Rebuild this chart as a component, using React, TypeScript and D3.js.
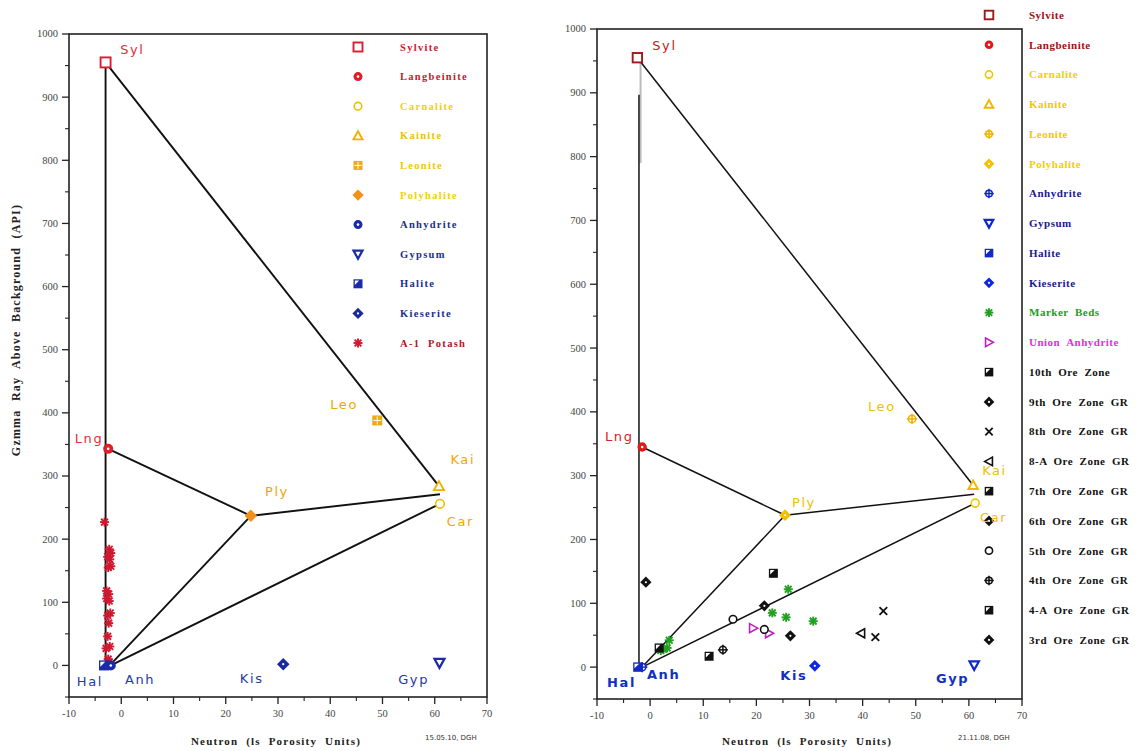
import React from 'react';
import * as d3 from 'd3';

// ---------- shared axis data ----------
const xDomain: [number, number] = [-10, 70];
const yDomain: [number, number] = [-50, 1000];
const xMajorTicks = d3.range(-10, 71, 10);
const xMinorTicks = d3.range(-5, 70, 10);
const yMajorTicks = d3.range(0, 1001, 100);
const yMinorTicks = d3.range(-50, 1000, 100);

// ---------- left chart data ----------
const leftLegendNames = ['Sylvite', 'Langbeinite', 'Carnalite', 'Kainite', 'Leonite', 'Polyhalite', 'Anhydrite', 'Gypsum', 'Halite', 'Kieserite', 'A-1  Potash'];
const leftLabels = ['Syl', 'Lng', 'Car', 'Kai', 'Leo', 'Ply', 'Anh', 'Gyp', 'Hal', 'Kis'];
const leftMineralX = [-3, -2.5, 61, 60.8, 49, 24.8, -2, 60.9, -3.3, 31];
const leftMineralY = [955, 343, 256, 284, 388, 237, 0, 4, 0, 2];
const leftLabelX = [-0.2, -8.9, 62.3, 63, 40, 27.5, 0.7, 53, -8.5, 22.7];
const leftLabelY = [975, 360, 229, 327, 414, 276, -22, -22, -25, -21];
const leftPotashX = [-3.2, -2.3, -2.0, -2.6, -2.2, -2.5, -2.0, -2.8, -2.4, -2.8, -2.3, -2.1, -2.6, -2.4, -2.6, -2.2, -2.9, -2.5, -2.3];
const leftPotashY = [227, 184, 178, 172, 168, 155, 157, 118, 113, 106, 102, 83, 79, 67, 46, 30, 27, 10, 5];
const leftTieFrom: [number, number][] = [[-3, 955], [-3, 955], [-2.5, 343], [24.8, 237], [24.8, 237], [-2, 0]];
const leftTieTo: [number, number][] = [[-3, 0], [60.8, 284], [24.8, 237], [-2.2, 0], [61, 271], [61, 256]];

// ---------- right chart data ----------
const rightLegendNames = ['Sylvite', 'Langbeinite', 'Carnalite', 'Kainite', 'Leonite', 'Polyhalite', 'Anhydrite', 'Gypsum', 'Halite', 'Kieserite', 'Marker  Beds', 'Union  Anhydrite', '10th  Ore  Zone', '9th  Ore  Zone  GR', '8th  Ore  Zone  GR', '8-A  Ore  Zone  GR', '7th  Ore  Zone  GR', '6th  Ore  Zone  GR', '5th  Ore  Zone  GR', '4th  Ore  Zone  GR', '4-A  Ore  Zone  GR', '3rd  Ore  Zone  GR'];
const rightLabels = ['Syl', 'Lng', 'Car', 'Kai', 'Leo', 'Ply', 'Anh', 'Gyp', 'Hal', 'Kis'];
const rightMineralX = [-2.4, -1.5, 61.2, 60.8, 49.3, 25.4, -1.5, 61, -2.3, 31];
const rightMineralY = [955, 345, 257, 285, 389, 238, 0, 3, 0, 2];
const rightLabelX = [0.4, -8.5, 62.1, 62.5, 41, 26.7, -0.6, 53.8, -8.1, 24.5];
const rightLabelY = [975, 362, 235, 309, 408, 259, -11, -17, -23.5, -12.5];
const rightTieFrom: [number, number][] = [[-2.1, 897], [-2.4, 955], [-1.5, 345], [25.4, 238], [25.4, 238], [-1.5, 0]];
const rightTieTo: [number, number][] = [[-2.1, 0], [60.8, 285], [25.4, 238], [-1.5, 0], [61, 271], [61.2, 257]];
const rightGreyLine: [number, number][] = [[-1.8, 955], [-1.8, 790]];
const markerBedsX = [26, 23, 25.6, 30.7, 3.6, 3.2, 2.5, 2.0];
const markerBedsY = [122, 85, 78, 72, 42, 30, 28, 26];
const unionAnhydriteX = [19.4, 22.4];
const unionAnhydriteY = [61, 53];
const ore10X = [23.2];
const ore10Y = [147];
const ore9X = [-0.8];
const ore9Y = [133];
const ore8X = [43.9, 42.4];
const ore8Y = [88, 47];
const ore8AX = [39.7];
const ore8AY = [53];
const ore7X = [1.7];
const ore7Y = [30];
const ore6X = [21.5];
const ore6Y = [96];
const ore5X = [15.6, 21.5];
const ore5Y = [75, 59];
const ore4X = [13.7];
const ore4Y = [27];
const ore4AX = [11.1];
const ore4AY = [17];
const ore3X = [26.4];
const ore3Y = [49];

type Sym = 'sqOpen' | 'circDot' | 'circOpen' | 'tri' | 'sqGrid' | 'diamond' | 'diamondDot' | 'circCross' | 'triDown' | 'triRight' | 'triLeft' | 'sqHalf' | 'aster' | 'cross';

function Marker({ sym, cx, cy, color, s = 4.5 }: { sym: Sym; cx: number; cy: number; color: string; s?: number }) {
  switch (sym) {
    case 'sqOpen':
      return <rect x={cx - s} y={cy - s} width={2 * s} height={2 * s} fill="#fff" stroke={color} strokeWidth={1.9} />;
    case 'circDot':
      return (<g><circle cx={cx} cy={cy} r={s} fill={color} /><circle cx={cx} cy={cy} r={1.3} fill="#fff" /></g>);
    case 'circOpen':
      return <circle cx={cx} cy={cy} r={s - 0.7} fill="#fff" stroke={color} strokeWidth={1.6} />;
    case 'tri':
      return <path d={`M${cx},${cy - s} L${cx + s},${cy + s * 0.8} L${cx - s},${cy + s * 0.8}Z`} fill="#fff" stroke={color} strokeWidth={1.9} />;
    case 'triDown':
      return <path d={`M${cx - s},${cy - s * 0.8} L${cx + s},${cy - s * 0.8} L${cx},${cy + s}Z`} fill="#fff" stroke={color} strokeWidth={2.2} />;
    case 'triRight':
      return <path d={`M${cx - s * 0.8},${cy - s} L${cx + s},${cy} L${cx - s * 0.8},${cy + s}Z`} fill="#fff" stroke={color} strokeWidth={1.6} />;
    case 'triLeft':
      return <path d={`M${cx + s * 0.8},${cy - s} L${cx - s},${cy} L${cx + s * 0.8},${cy + s}Z`} fill="#fff" stroke={color} strokeWidth={1.6} />;
    case 'sqGrid':
      return (<g><rect x={cx - s} y={cy - s} width={2 * s} height={2 * s} fill={color} />
        <line x1={cx - s + 1} x2={cx + s - 1} y1={cy} y2={cy} stroke="#fff" strokeWidth={1} />
        <line x1={cx} x2={cx} y1={cy - s + 1} y2={cy + s - 1} stroke="#fff" strokeWidth={1} /></g>);
    case 'diamond':
      return <path d={`M${cx},${cy - s * 1.25} L${cx + s * 1.25},${cy} L${cx},${cy + s * 1.25} L${cx - s * 1.25},${cy}Z`} fill={color} />;
    case 'diamondDot':
      return (<g><path d={`M${cx},${cy - s * 1.25} L${cx + s * 1.25},${cy} L${cx},${cy + s * 1.25} L${cx - s * 1.25},${cy}Z`} fill={color} />
        <circle cx={cx} cy={cy} r={1.1} fill="#fff" /></g>);
    case 'circCross':
      return (<g><circle cx={cx} cy={cy} r={s - 1} fill="#fff" stroke={color} strokeWidth={1.5} />
        <line x1={cx - s - 0.5} x2={cx + s + 0.5} y1={cy} y2={cy} stroke={color} strokeWidth={1.5} />
        <line x1={cx} x2={cx} y1={cy - s - 0.5} y2={cy + s + 0.5} stroke={color} strokeWidth={1.5} /></g>);
    case 'sqHalf':
      return (<g><rect x={cx - s} y={cy - s} width={2 * s} height={2 * s} fill={color} />
        <path d={`M${cx - s + 1.3},${cy - s + 1.3} L${cx + 1.2},${cy - s + 1.3} L${cx - s + 1.3},${cy + 1.2}Z`} fill="#fff" /></g>);
    case 'aster': {
      const d = s * 0.75;
      return (<g stroke={color} strokeWidth={1.9}>
        <line x1={cx - s} x2={cx + s} y1={cy} y2={cy} />
        <line x1={cx} x2={cx} y1={cy - s} y2={cy + s} />
        <line x1={cx - d} x2={cx + d} y1={cy - d} y2={cy + d} />
        <line x1={cx - d} x2={cx + d} y1={cy + d} y2={cy - d} /></g>);
    }
    case 'cross': {
      const d = s * 0.85;
      return (<g stroke={color} strokeWidth={1.8}>
        <line x1={cx - d} x2={cx + d} y1={cy - d} y2={cy + d} />
        <line x1={cx - d} x2={cx + d} y1={cy + d} y2={cy - d} /></g>);
    }
  }
  return null;
}

const SERIF = '"Liberation Serif", "DejaVu Serif", serif';
const SANS = '"DejaVu Sans", "Liberation Sans", sans-serif';

interface AxisProps {
  x: d3.ScaleLinear<number, number>;
  y: d3.ScaleLinear<number, number>;
}

function AxesFrame({ x, y }: AxisProps) {
  const [x0, x1] = x.range();
  const [yb, yt] = y.range();
  return (
    <g>
      <rect x={x0} y={yt} width={x1 - x0} height={yb - yt} fill="none" stroke="#222" strokeWidth={1.6} />
      {yMajorTicks.map((t) => (
        <g key={'ym' + t}>
          <line x1={x0 - 7} x2={x0} y1={y(t)} y2={y(t)} stroke="#222" strokeWidth={1.3} />
          <text x={x0 - 11} y={y(t)} dy="0.33em" textAnchor="end" fontFamily={SERIF} fontSize={10.5} fill="#444">{t}</text>
        </g>
      ))}
      {yMinorTicks.map((t) => (
        <line key={'yn' + t} x1={x0 - 4} x2={x0} y1={y(t)} y2={y(t)} stroke="#222" strokeWidth={1.1} />
      ))}
      {xMajorTicks.map((t) => (
        <g key={'xm' + t}>
          <line x1={x(t)} x2={x(t)} y1={yb} y2={yb + 7} stroke="#222" strokeWidth={1.3} />
          <text x={x(t)} y={yb + 20} textAnchor="middle" fontFamily={SERIF} fontSize={10.5} fill="#444">{t}</text>
        </g>
      ))}
      {xMinorTicks.map((t) => (
        <line key={'xn' + t} x1={x(t)} x2={x(t)} y1={yb} y2={yb + 4} stroke="#222" strokeWidth={1.1} />
      ))}
    </g>
  );
}

// ---------- styles ----------
const leftSyms: Sym[] = ['sqOpen', 'circDot', 'circOpen', 'tri', 'sqGrid', 'diamond', 'circDot', 'triDown', 'sqHalf', 'diamondDot', 'aster'];
const leftMarkerColors = ['#d81e30', '#e01e28', '#e8c400', '#f0b000', '#f0aa10', '#f29018', '#1a2aa8', '#1a2aa8', '#1a2aa8', '#1a2a9a', '#d01830'];
const leftTextColors = ['#c8202e', '#c8202e', '#f0d400', '#f0c000', '#f0c800', '#f2d200', '#1b2f8c', '#1b2f8c', '#1b2f8c', '#1b2f8c', '#b0142a'];
const leftLabelColors = ['#e0303a', '#e0303a', '#f0a800', '#f0a800', '#f0a800', '#f0a800', '#1f3aa0', '#1f3aa0', '#1f3aa0', '#1f3aa0'];

const rightSyms: Sym[] = ['sqOpen', 'circDot', 'circOpen', 'tri', 'circCross', 'diamondDot', 'circCross', 'triDown', 'sqHalf', 'diamondDot', 'aster', 'triRight', 'sqHalf', 'diamondDot', 'cross', 'triLeft', 'sqHalf', 'diamondDot', 'circOpen', 'circCross', 'sqHalf', 'diamondDot'];
const rightMarkerColors = ['#a01818', '#e01818', '#f0c800', '#f0b800', '#f0b000', '#f5c000', '#1028c8', '#1028c8', '#1028c8', '#1028e0', '#20a020', '#c020c0', '#111', '#111', '#111', '#111', '#111', '#111', '#111', '#111', '#111', '#111'];
const rightTextColors = ['#a01010', '#a01010', '#f2d000', '#f2c800', '#f2c800', '#f2d000', '#1a1a88', '#1a1a88', '#1a1a88', '#1a1a88', '#20a020', '#e030e0', '#111', '#111', '#111', '#111', '#111', '#111', '#111', '#111', '#111', '#111'];
const rightLabelColors = ['#c82020', '#e02020', '#f0c000', '#f0c000', '#f0c000', '#f0c000', '#1030c0', '#1030c0', '#1030c0', '#1030c0'];

function LeftChart() {
  const x = d3.scaleLinear().domain(xDomain).range([69, 487]);
  const y = d3.scaleLinear().domain(yDomain).range([697, 34]);
  const legendY = (i: number) => 47 + i * 29.6;
  return (
    <g>
      <AxesFrame x={x} y={y} />
      {leftTieFrom.map((p, i) => (
        <line key={'t' + i} x1={x(p[0])} y1={y(p[1])} x2={x(leftTieTo[i][0])} y2={y(leftTieTo[i][1])} stroke="#111" strokeWidth={1.9} />
      ))}
      {leftPotashX.map((v, i) => (
        <Marker key={'p' + i} sym="aster" cx={x(v)} cy={y(leftPotashY[i])} color={leftMarkerColors[10]} s={4.5} />
      ))}
      {leftMineralX.map((v, i) => (
        <Marker key={'m' + i} sym={leftSyms[i]} cx={x(v)} cy={y(leftMineralY[i])} color={leftMarkerColors[i]} s={5} />
      ))}
      {leftLabels.map((l, i) => (
        <text key={'l' + i} x={x(leftLabelX[i])} y={y(leftLabelY[i])} dy="0.36em" fontFamily={SANS} fontSize={13} letterSpacing={1.6} fill={leftLabelColors[i]}>{l}</text>
      ))}
      {leftLegendNames.map((n, i) => (
        <g key={'lg' + i}>
          <Marker sym={leftSyms[i]} cx={358} cy={legendY(i)} color={leftMarkerColors[i]} s={4.5} />
          <text x={400} y={legendY(i)} dy="0.35em" fontFamily={SERIF} fontWeight="bold" fontSize={10.5} letterSpacing={1.3} fill={leftTextColors[i]} style={{ whiteSpace: 'pre' }}>{n}</text>
        </g>
      ))}
      <text transform={`translate(20,${330}) rotate(-90)`} textAnchor="middle" fontFamily={SERIF} fontWeight="bold" fontSize={12} letterSpacing={1.2} fill="#222" style={{ whiteSpace: 'pre' }}>{'Gzmma  Ray  Above  Background  (API)'}</text>
      <text x={276} y={745} textAnchor="middle" fontFamily={SERIF} fontWeight="bold" fontSize={11} letterSpacing={1.2} fill="#222" style={{ whiteSpace: 'pre' }}>{'Neutron  (ls  Porosity  Units)'}</text>
      <text x={425} y={740} fontFamily={SANS} fontSize={7} fill="#333">15.05.10, DGH</text>
    </g>
  );
}

function RightChart() {
  const x = d3.scaleLinear().domain(xDomain).range([597, 1022]);
  const y = d3.scaleLinear().domain(yDomain).range([699, 29]);
  const legendY = (i: number) => 15 + i * 29.76;
  const extra: [number[], number[], number][] = [
    [markerBedsX, markerBedsY, 10], [unionAnhydriteX, unionAnhydriteY, 11], [ore10X, ore10Y, 12], [ore9X, ore9Y, 13],
    [ore8X, ore8Y, 14], [ore8AX, ore8AY, 15], [ore7X, ore7Y, 16], [ore6X, ore6Y, 17], [ore5X, ore5Y, 18],
    [ore4X, ore4Y, 19], [ore4AX, ore4AY, 20], [ore3X, ore3Y, 21],
  ];
  return (
    <g>
      <AxesFrame x={x} y={y} />
      <line x1={x(rightGreyLine[0][0])} y1={y(rightGreyLine[0][1])} x2={x(rightGreyLine[1][0])} y2={y(rightGreyLine[1][1])} stroke="#bbb" strokeWidth={2} />
      {rightTieFrom.map((p, i) => (
        <line key={'t' + i} x1={x(p[0])} y1={y(p[1])} x2={x(rightTieTo[i][0])} y2={y(rightTieTo[i][1])} stroke="#111" strokeWidth={1.5} />
      ))}
      {extra.map(([xs, ys, k]) => xs.map((v, j) => (
        <Marker key={'e' + k + '-' + j} sym={rightSyms[k]} cx={x(v)} cy={y(ys[j])} color={rightMarkerColors[k]} s={4.5} />
      )))}
      {rightMineralX.map((v, i) => (
        <Marker key={'m' + i} sym={rightSyms[i]} cx={x(v)} cy={y(rightMineralY[i])} color={rightMarkerColors[i]} s={4.7} />
      ))}
      {rightLegendNames.map((n, i) => (
        <g key={'lg' + i}>
          <Marker sym={rightSyms[i]} cx={989} cy={legendY(i)} color={rightMarkerColors[i]} s={4.3} />
          <text x={1029} y={legendY(i)} dy="0.35em" fontFamily={SERIF} fontWeight="bold" fontSize={11} letterSpacing={0.5} fill={rightTextColors[i]} style={{ whiteSpace: 'pre' }}>{n}</text>
        </g>
      ))}
      {rightLabels.map((l, i) => (
        <text key={'l' + i} x={x(rightLabelX[i])} y={y(rightLabelY[i])} dy="0.36em" fontFamily={SANS} fontSize={13} letterSpacing={1.6} fill={rightLabelColors[i]} fontWeight={i >= 6 ? 'bold' : 'normal'}>{l}</text>
      ))}
      <text x={807} y={745} textAnchor="middle" fontFamily={SERIF} fontWeight="bold" fontSize={11} letterSpacing={1.2} fill="#222" style={{ whiteSpace: 'pre' }}>{'Neutron  (ls  Porosity  Units)'}</text>
      <text x={958} y={740} fontFamily={SANS} fontSize={7} fill="#333">21.11.08, DGH</text>
    </g>
  );
}

export default function App() {
  return (
    <svg width={1136} height={751} style={{ position: 'absolute', left: 0, top: 0, background: '#fff' }}>
      <rect width={1136} height={751} fill="#fff" />
      <LeftChart />
      <RightChart />
    </svg>
  );
}
